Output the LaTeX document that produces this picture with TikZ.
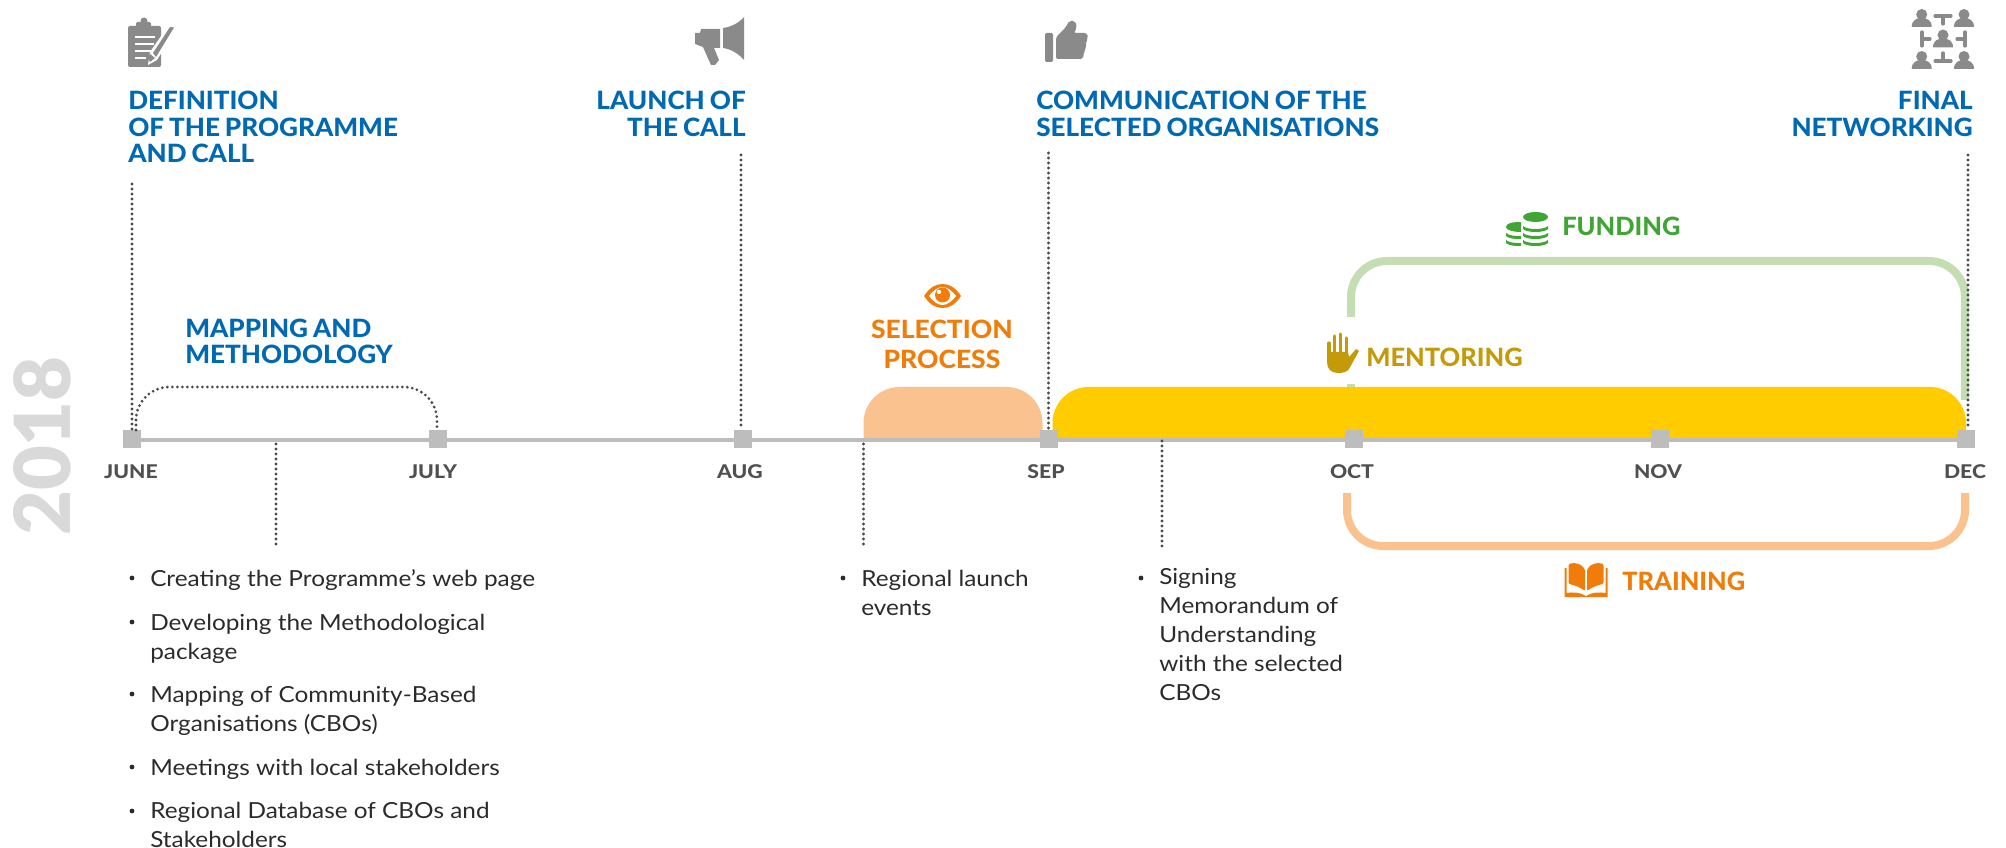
\documentclass[tikz,border=0pt]{standalone}
\usepackage{fontspec}
\setmainfont{Lato}[FakeStretch=1.1]
\newfontfamily\heavyfont{Lato}[UprightFont=*-Black]
\newfontfamily\headfont{Lato}[UprightFont=*-Heavy,FakeStretch=1.035,WordSpace=0.8]
\newfontfamily\selfont{Lato}[UprightFont=*-Heavy,FakeStretch=1.05,WordSpace=0.8]
\newfontfamily\labelfont{Lato}[UprightFont=*-Heavy,FakeStretch=1.01]
\newfontfamily\monthfont{Lato}[UprightFont=*-Heavy,FakeStretch=1.12]
\definecolor{headblue}{HTML}{0069B4}
\definecolor{iconGrey}{HTML}{8A8A8A}
\definecolor{monthGrey}{HTML}{505050}
\definecolor{lineGrey}{HTML}{BDBDBD}
\definecolor{dotGrey}{HTML}{4A4A4A}
\definecolor{bodyDark}{HTML}{2B2B2B}
\definecolor{orangeC}{HTML}{F07D0A}
\definecolor{peach}{HTML}{FAC28F}
\definecolor{yellowC}{HTML}{FFCC00}
\definecolor{greenC}{HTML}{3FA535}
\definecolor{greenL}{HTML}{C5DDB2}
\definecolor{mustard}{HTML}{C49A08}
\definecolor{yearGrey}{HTML}{D9D9D9}
\tikzset{
  head/.style={inner sep=0pt,align=left,font=\fontsize{18.9pt}{19.9pt}\selectfont\headfont,text=headblue},
  lab/.style={inner sep=0pt,anchor=base west,font=\fontsize{18.9pt}{19.9pt}\selectfont\labelfont},
  month/.style={inner sep=0pt,anchor=base,font=\fontsize{14.2pt}{15pt}\selectfont\monthfont,text=monthGrey},
  body/.style={inner sep=0pt,anchor=base west,align=left,font=\fontsize{16.6pt}{21.6pt}\selectfont,text=bodyDark},
  tick/.style={fill=lineGrey,minimum width=13.5pt,minimum height=13.5pt,inner sep=0pt},
  dotline/.style={dotGrey,line width=2.3pt,line cap=round,dash pattern=on 0pt off 3.75pt},
  bul/.style={circle,fill=bodyDark,minimum size=3.6pt,inner sep=0pt},
}
\begin{document}
\begin{tikzpicture}[x=0.75pt,y=-0.75pt]
\useasboundingbox (0,0) rectangle (2006,848);
% bars
\draw[greenL,line width=6pt,rounded corners=27pt] (1351,317) -- (1351,261) -- (1965,261) -- (1965,400);
\draw[greenL,line width=6pt] (1351,384) -- (1351,390);
\draw[peach,line width=6pt,rounded corners=27pt] (1347,493) -- (1347,546) -- (1965,546) -- (1965,493);
\fill[peach] (863.5,439) [rounded corners=27pt] -- (863.5,387) -- (1042.5,387) [sharp corners] -- (1042.5,439) -- cycle;
\fill[yellowC] (1052.5,439) [rounded corners=27pt] -- (1052.5,387) -- (1966,387) [sharp corners] -- (1966,439) -- cycle;
% axis
\coordinate (axisL) at (132,440);
\coordinate (axisR) at (1966,440);
\draw[lineGrey,line width=3pt] (axisL) -- (axisR);
\node[tick] (june) at (132,439) {};
\node[tick] (july) at (438,439) {};
\node[tick] (aug) at (743,439) {};
\node[tick] (sep) at (1049,439) {};
\node[tick] (oct) at (1354,439) {};
\node[tick] (nov) at (1660,439) {};
\node[tick] (dec) at (1966,439) {};
\node[month] at (131,478) {JUNE};
\node[month] at (433,478) {JULY};
\node[month] at (740,478) {AUG};
\node[month] at (1046,478) {SEP};
\node[month] at (1352,478) {OCT};
\node[month] at (1658,478) {NOV};
\node[month] at (1965,478) {DEC};
% dotted
\coordinate (dA) at (132,184);
\coordinate (dB) at (741,155);
\coordinate (dC) at (1048.5,153);
\coordinate (dD) at (1968,155);
\draw[dotline] (dA) -- (132,430);
\draw[dotline] (dB) -- (741,430);
\draw[dotline] (dC) -- (1048.5,430);
\draw[dotline] (dD) -- (1968,430);
\draw[dotline,rounded corners=25pt] (136,430) -- (136,387) -- (437,387) -- (437,430);
\draw[dotline] (276,444) -- (276,548);
\draw[dotline] (863.5,444) -- (863.5,548);
\draw[dotline] (1162,441) -- (1162,548);
% headings
\node[head,anchor=base west] (h1) at (128,163) {DEFINITION\\OF THE PROGRAMME\\AND CALL};
\node[head,anchor=base east,align=right] (h2) at (746,136.5) {LAUNCH OF\\THE CALL};
\node[head,anchor=base west] (h3) at (1036,136.5) {COMMUNICATION OF THE\\SELECTED ORGANISATIONS};
\node[head,anchor=base east,align=right] (h4) at (1973,136.5) {FINAL\\NETWORKING};
\node[head,anchor=base west] (h5) at (185,364) {MAPPING AND\\METHODOLOGY};
\node[head,anchor=base,align=center,text=orangeC,font=\fontsize{18.9pt}{22.5pt}\selectfont\selfont] (h6) at (942,369) {SELECTION\\PROCESS};
\node[lab,text=greenC] (h7) at (1562,235.5) {FUNDING};
\node[lab,text=mustard] (h8) at (1366,366.5) {MENTORING};
\node[lab,text=orangeC] (h9) at (1622,590.5) {TRAINING};
% year
\node[inner sep=0pt,anchor=base,rotate=90,text=yearGrey,font=\fontsize{58pt}{60pt}\selectfont\heavyfont] (yr) at (70,446) {2018};
% body
\foreach \yy in {578,622,694,767,811} \node[bul] at (132,\yy) {};
\node[body] at (150,586) {Creating the Programme’s web page};
\node[body] at (150,659) {Developing the Methodological\\package};
\node[body] at (150,731) {Mapping of Community-Based\\Organisations (CBOs)};
\node[body] at (150,775) {Meetings with local stakeholders};
\node[body] at (150,847) {Regional Database of CBOs and\\Stakeholders};
\node[bul] at (843,578) {};
\node[body] at (861,615) {Regional launch\\events};
\node[bul] at (1141,578) {};
\node[body] at (1159,700) {Signing\\Memorandum of\\Understanding\\with the selected\\CBOs};
% clipboard icon
\fill[iconGrey,rounded corners=1.5pt] (128,26) rectangle (161,67);
\fill[iconGrey,rounded corners=1pt] (136,22) rectangle (151,31);
\fill[iconGrey] (144,21) circle (3.5);
\draw[white,line width=1.2pt] (135,37) -- (155,37) (135,44) -- (154,44) (135,51) -- (151,51) (135,58) -- (146,58);
\fill[white] (150,52) -- (168,26) -- (175,31) -- (157,60) -- (148,65) -- cycle;
\fill[iconGrey] (153,53) -- (170,27) -- (174,27.5) -- (156,57) -- cycle;
\fill[iconGrey] (148,58) -- (150,54) -- (155,58) -- (150,62) -- cycle;
% megaphone
\fill[iconGrey] (723,28) .. controls (731,27) and (739,23) .. (744,17) -- (744,60) .. controls (739,54) and (731,49) .. (723,48) -- cycle;
\fill[iconGrey] (695,33) -- (700,33) -- (701,29) -- (720,29) -- (720,48) -- (714,48) -- (719,60) -- (715,65) -- (711,65) -- (703,47) -- (695,44) -- cycle;
% thumb
\fill[iconGrey,rounded corners=1pt] (1045,33) rectangle (1053,62);
\fill[iconGrey,rounded corners=1.5pt] (1056,37) -- (1066,27) -- (1069,21) -- (1075,21) -- (1077,27) -- (1074,33) -- (1087,33) -- (1088,38) -- (1086,42) -- (1086,48) -- (1084,52) -- (1083,59) -- (1056,59) -- cycle;
% network
\foreach \px/\py in {1921.7/18,1964/18,1943/38.5,1921.7/60,1964/60}{
  \fill[iconGrey] (\px,\py-3.5) circle (5.5);
  \fill[iconGrey] (\px-10,\py+9) .. controls (\px-10,\py+2) and (\px-5,\py) .. (\px,\py) .. controls (\px+5,\py) and (\px+10,\py+2) .. (\px+10,\py+9) -- cycle;
}
\draw[iconGrey,line width=2.4pt,line cap=round] (1935,16) -- (1951,16) (1943,16) -- (1943,24) (1935,61) -- (1951,61) (1943,61) -- (1943,53) (1922,32) -- (1922,46) (1922,39) -- (1930,39) (1965,32) -- (1965,46) (1965,39) -- (1957,39);
% eye
\fill[orangeC] (924,296) .. controls (930,287) and (936,284) .. (942.5,284) .. controls (949,284) and (955,287) .. (961,296) .. controls (955,305) and (949,308) .. (942.5,308) .. controls (936,308) and (930,305) .. (924,296) -- cycle;
\fill[white] (929,296) .. controls (934,290) and (938,287) .. (942.5,287) .. controls (947,287) and (951,290) .. (956,296) .. controls (951,302) and (947,305) .. (942.5,305) .. controls (938,305) and (934,302) .. (929,296) -- cycle;
\fill[orangeC] (942.5,295) circle (7.5);
\fill[white] (939,292) circle (2.2);
% coins
\foreach \cy in {243,236,229}{\fill[greenC] (1523,\cy-3) -- (1523,\cy) .. controls (1527,\cy+4) and (1544,\cy+4) .. (1548,\cy) -- (1548,\cy-3) .. controls (1544,\cy+1) and (1527,\cy+1) .. (1523,\cy-3) -- cycle;}
\fill[greenC] (1535.5,217) ellipse (12.5 and 5);
\foreach \cy in {243,236}{\fill[greenC] (1506,\cy-3) -- (1506,\cy) .. controls (1509,\cy+3) and (1516,\cy+3) .. (1521,\cy+3) -- (1521,\cy) .. controls (1516,\cy) and (1509,\cy) .. (1506,\cy-3) -- cycle;}
\fill[greenC] (1521,222) .. controls (1513,222) and (1506,223) .. (1506,227) .. controls (1506,230) and (1513,232) .. (1521,232) -- cycle;
% hand
\draw[mustard,line width=2.3pt,line cap=round] (1329,343) -- (1329,360) (1334.6,336) -- (1334.6,360) (1340.6,334) -- (1340.6,360) (1346.5,338) -- (1346.5,360);
\fill[mustard] (1327.4,352) -- (1348,352) -- (1349,357) -- (1356,349) -- (1359,351) -- (1349,369) .. controls (1347,372) and (1343,373) .. (1338,373) .. controls (1331,373) and (1327,369) .. (1327,362) -- cycle;
% book
\fill[orangeC,rounded corners=1pt] (1568.5,564) .. controls (1575,562) and (1582,564) .. (1585,570) -- (1585,591) .. controls (1581,588) and (1575,585) .. (1568.5,584) -- cycle;
\fill[orangeC,rounded corners=1pt] (1603.5,564) .. controls (1597,562) and (1590,564) .. (1587,570) -- (1587,591) .. controls (1591,588) and (1597,585) .. (1603.5,584) -- cycle;
\fill[orangeC] (1564.5,568) -- (1566.5,568) -- (1566.5,593) .. controls (1572,592) and (1580,592) .. (1586,596) .. controls (1592,592) and (1600,592) .. (1605.5,593) -- (1605.5,568) -- (1607.5,568) -- (1607.5,597) -- (1564.5,597) -- cycle;
\end{tikzpicture}
\end{document}
